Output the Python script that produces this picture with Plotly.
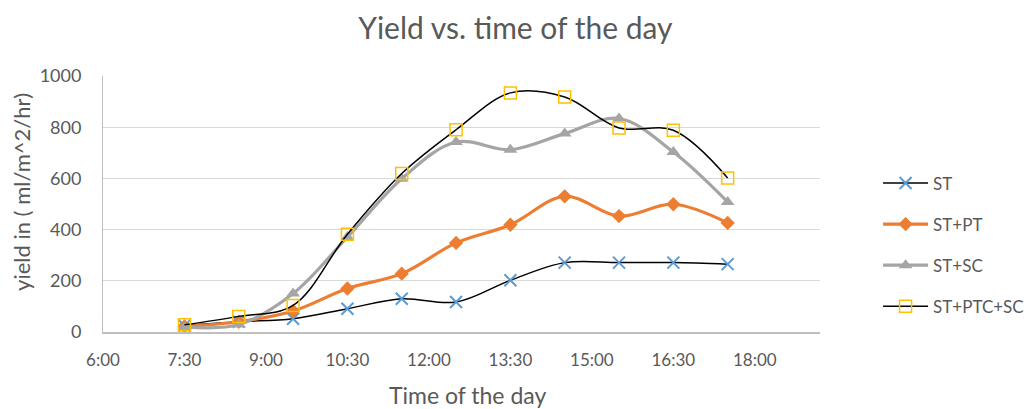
import plotly.graph_objects as go

times = ["7:30", "8:30", "9:30", "10:30", "11:30", "12:30", "13:30", "14:30", "15:30", "16:30", "17:30"]
st = [25, 40, 52, 91, 130, 117, 202, 271, 271, 271, 265]
st_pt = [22, 40, 82, 170, 228, 348, 419, 530, 453, 499, 426]
st_sc = [20, 29, 150, 371, 599, 742, 712, 775, 834, 703, 508]
st_ptc_sc = [28, 61, 104, 382, 619, 790, 934, 918, 797, 788, 602]
tick_labels = ["6:00", "7:30", "9:00", "10:30", "12:00", "13:30", "15:00", "16:30", "18:00"]


def to_hours(s):
    h, m = s.split(":")
    return int(h) + int(m) / 60.0


x = [to_hours(t) for t in times]
tick_vals = [to_hours(t) for t in tick_labels]

FONT = "Lato"
TXT = "#595959"

fig = go.Figure()
fig.add_trace(go.Scatter(
    x=x, y=st, name="ST", mode="lines+markers", legendgroup="a",
    line=dict(color="#000000", width=1.5, shape="spline", smoothing=1),
    marker=dict(symbol="x-thin", size=12, color="#5B9BD5",
                line=dict(color="#5B9BD5", width=2)),
))
fig.add_trace(go.Scatter(
    x=x, y=st_pt, name="ST+PT", mode="lines+markers", legendgroup="b",
    line=dict(color="#ED7D31", width=3.2, shape="spline", smoothing=1),
    marker=dict(symbol="diamond", size=11, color="#ED7D31"),
))
fig.add_trace(go.Scatter(
    x=x, y=st_sc, name="ST+SC", mode="lines+markers", legendgroup="c",
    line=dict(color="#A5A5A5", width=3.2, shape="spline", smoothing=1),
    marker=dict(symbol="triangle-up", size=12, color="#A5A5A5"),
))
fig.add_trace(go.Scatter(
    x=x, y=st_ptc_sc, name="ST+PTC+SC", mode="lines+markers", legendgroup="d",
    line=dict(color="#000000", width=1.5, shape="spline", smoothing=1),
    marker=dict(symbol="square-open", size=12, color="#FFC000",
                line=dict(color="#FFC000", width=1.5)),
))

fig.update_layout(
    width=1027, height=401,
    margin=dict(l=95, r=215, t=68, b=77, autoexpand=False),
    paper_bgcolor="white", plot_bgcolor="white",
    font=dict(family=FONT, color=TXT, size=17),
    title=dict(text="Yield vs. time of the day", x=0.494, xanchor="center",
               y=0.95, yanchor="middle",
               font=dict(family=FONT, size=30, color=TXT)),
    legend=dict(x=1.081, xanchor="left", y=0.34, yanchor="middle",
                font=dict(family=FONT, size=17, color=TXT),
                traceorder="grouped", tracegroupgap=16, itemwidth=45,
                bgcolor="rgba(0,0,0,0)"),
    showlegend=True,
    annotations=[
        dict(text="Time of the day", xref="paper", yref="paper",
             x=0.509, y=-0.246, xanchor="center", yanchor="middle",
             showarrow=False, font=dict(family=FONT, size=23, color=TXT)),
        dict(text="yield in ( ml/m^2/hr)", xref="paper", yref="paper",
             x=-0.113, y=0.547, xanchor="center", yanchor="middle", textangle=-90,
             showarrow=False, font=dict(family=FONT, size=22, color=TXT)),
    ],
)
fig.update_xaxes(
    range=[6, 19.2], tickvals=tick_vals, ticktext=tick_labels,
    showgrid=False, zeroline=False,
    showline=True, linecolor="#BFBFBF", linewidth=1.5,
    ticks="outside", ticklen=12, tickcolor="rgba(0,0,0,0)",
    tickfont=dict(family=FONT, size=17, color=TXT),
)
fig.update_yaxes(
    range=[0, 1000], tickvals=[0, 200, 400, 600, 800, 1000],
    showgrid=True, gridcolor="#D9D9D9", gridwidth=1.2, zeroline=False,
    showline=True, linecolor="#BFBFBF", linewidth=1,
    ticks="outside", ticklen=17, tickcolor="rgba(0,0,0,0)",
    tickfont=dict(family=FONT, size=18, color=TXT),
)

fig.write_html("out.html")
